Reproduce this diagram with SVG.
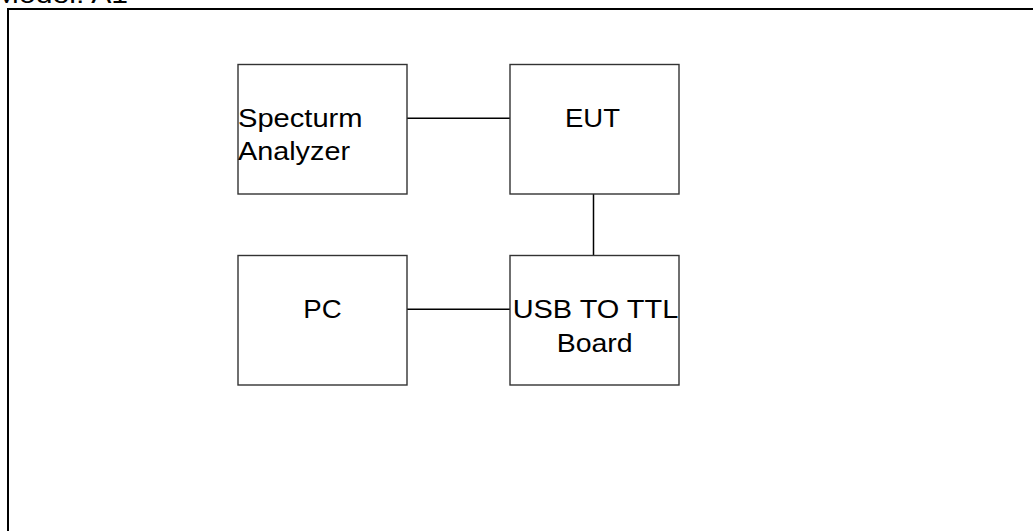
<svg xmlns="http://www.w3.org/2000/svg" width="1033" height="531" viewBox="0 0 1033 531">
<style>
.box{fill:#fff;stroke:#333;stroke-width:1.4}
.lbl{font-family:"Liberation Sans",Arial,sans-serif;font-size:26px;fill:#000}
.conn line{stroke:#000;stroke-width:1.5}
</style>
<rect width="1033" height="531" fill="#fff"/>
<text x="-6" y="2.5" class="lbl" textLength="134" lengthAdjust="spacingAndGlyphs">Model: A1</text>
<rect x="8" y="9" width="1040" height="540" fill="none" stroke="#000" stroke-width="2"/>
<g class="conn">
<line x1="407" y1="118.3" x2="510" y2="118.3"/>
<line x1="593.5" y1="194" x2="593.5" y2="255.5"/>
<line x1="407" y1="309.3" x2="510" y2="309.3"/>
</g>
<g id="spectrum">
<rect class="box" x="238" y="64.5" width="169" height="129.5"/>
<text class="lbl" x="238" y="126.7" textLength="124.5" lengthAdjust="spacingAndGlyphs">Specturm</text>
<text class="lbl" x="238" y="160" textLength="112" lengthAdjust="spacingAndGlyphs">Analyzer</text>
</g>
<g id="eut">
<rect class="box" x="510" y="64.5" width="169" height="129.5"/>
<text class="lbl" x="565" y="126.7" textLength="55" lengthAdjust="spacingAndGlyphs">EUT</text>
</g>
<g id="pc">
<rect class="box" x="238" y="255.5" width="169" height="129.5"/>
<text class="lbl" x="303.3" y="317.7" textLength="38.4" lengthAdjust="spacingAndGlyphs">PC</text>
</g>
<g id="usb">
<rect class="box" x="510" y="255.5" width="169" height="129.5"/>
<text class="lbl" x="512.7" y="317.7" textLength="165.6" lengthAdjust="spacingAndGlyphs">USB TO TTL</text>
<text class="lbl" x="556.7" y="351.7" textLength="76" lengthAdjust="spacingAndGlyphs">Board</text>
</g>
</svg>
